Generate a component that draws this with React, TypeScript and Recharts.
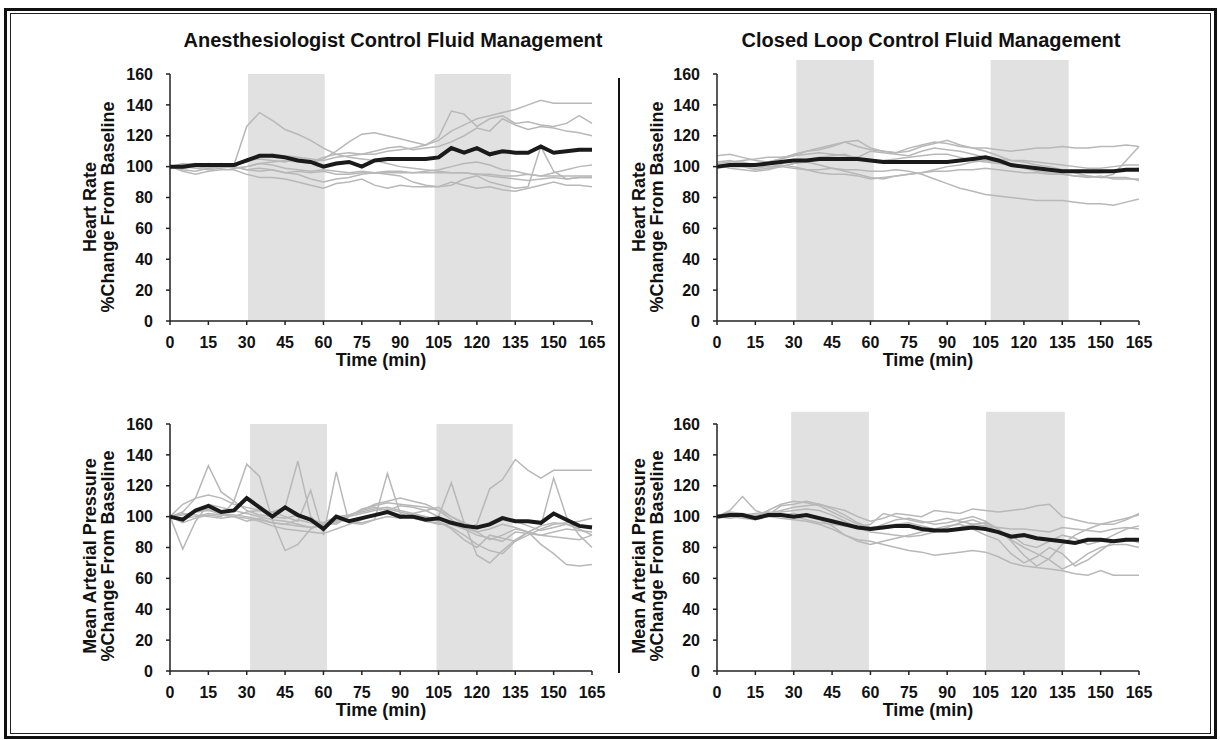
import { LineChart, Line, XAxis, YAxis, ReferenceArea } from "recharts";

const minutes = [0, 5, 10, 15, 20, 25, 30, 35, 40, 45, 50, 55, 60, 65, 70, 75, 80, 85, 90, 95, 100, 105, 110, 115, 120, 125, 130, 135, 140, 145, 150, 155, 160, 165];
const xTicks = [0, 15, 30, 45, 60, 75, 90, 105, 120, 135, 150, 165];
const yTicks = [0, 20, 40, 60, 80, 100, 120, 140, 160];

// Heart rate, anesthesiologist control
const hrAnesMean = [100,100,101,101,101,101,104,107,107,106,104,103,100,102,103,100,104,105,105,105,105,106,112,109,112,108,110,109,109,113,109,110,111,111];
const hrAnes1 = [100,99,100,101,100,101,126,135,130,124,121,117,112,108,106,105,104,102,100,99,98,97,96,96,95,94,93,92,91,92,93,92,93,93];
const hrAnes2 = [100,101,102,100,101,99,100,102,103,104,103,102,105,110,116,121,122,120,118,116,114,117,123,127,131,133,135,137,140,143,141,141,141,141];
const hrAnes3 = [100,102,101,100,102,101,103,106,108,107,106,105,104,106,107,108,108,110,111,112,114,119,136,134,126,131,133,128,129,127,126,128,133,128];
const hrAnes4 = [100,99,100,102,101,100,104,105,104,103,105,103,106,108,109,108,110,112,113,111,112,113,116,120,125,123,131,127,124,126,125,123,122,120];
const hrAnes5 = [100,98,97,99,100,99,100,102,101,99,98,97,98,97,96,97,96,97,97,96,97,98,100,102,103,101,98,97,95,94,96,98,100,101];
const hrAnes6 = [100,97,95,97,98,98,95,93,93,92,90,88,86,89,90,92,88,86,88,87,87,87,90,88,86,87,85,84,86,88,90,88,88,87];
const hrAnes7 = [100,101,100,99,100,100,98,97,98,96,95,92,90,92,93,95,96,95,94,90,88,87,88,92,94,90,88,86,87,113,97,92,93,93];
const hrAnes8 = [100,100,99,98,99,100,98,99,98,96,97,96,97,95,95,96,96,96,96,96,96,96,96,96,95,95,94,94,95,94,94,94,94,94];

// Heart rate, closed loop control
const hrLoopMean = [100,101,101,101,102,103,104,104,105,105,105,105,104,103,103,103,103,103,103,104,105,106,104,101,100,99,98,97,97,97,97,97,98,98];
const hrLoop1 = [100,101,100,99,100,100,99,98,98,99,98,98,97,97,98,97,95,92,89,86,84,82,81,80,79,78,78,78,77,76,76,75,77,79];
const hrLoop2 = [107,108,106,104,103,105,108,110,112,114,116,113,111,110,109,112,114,116,115,113,112,112,111,110,111,112,112,113,112,112,113,113,114,113];
const hrLoop3 = [103,104,102,101,103,105,107,110,111,113,116,117,112,110,109,110,113,115,117,114,112,110,107,104,103,101,100,98,96,94,93,95,104,113];
const hrLoop4 = [101,99,98,97,98,100,102,103,101,99,97,95,93,92,94,95,96,98,100,101,103,104,103,101,99,97,96,95,94,93,94,92,92,92];
const hrLoop5 = [100,102,103,101,100,101,100,98,96,95,95,94,92,93,94,95,96,97,97,98,98,99,98,97,96,96,95,95,94,94,93,93,93,91];
const hrLoop6 = [102,103,104,105,106,106,107,108,109,108,107,106,110,109,108,107,110,112,111,110,108,106,105,104,104,103,102,101,100,99,99,100,101,101];
const hrLoop7 = [99,100,100,98,99,100,102,104,106,107,108,105,104,104,105,106,107,108,108,106,104,103,102,101,100,99,98,97,97,96,96,97,98,99];

// Mean arterial pressure, anesthesiologist control
const mapAnesMean = [100,98,104,107,103,104,112,106,100,106,101,98,92,100,97,99,101,103,100,100,98,99,96,94,93,95,99,97,97,96,102,98,94,93];
const mapAnes1 = [100,97,103,105,101,100,97,99,96,95,98,96,94,97,101,104,106,104,101,100,97,95,95,92,95,118,124,137,130,125,130,130,130,130];
const mapAnes2 = [100,108,112,133,116,110,104,101,100,99,101,98,96,95,100,102,104,105,103,101,100,98,96,93,90,92,95,93,90,88,90,92,91,90];
const mapAnes3 = [100,96,99,101,100,110,134,126,98,78,82,92,96,100,101,103,105,106,104,102,100,97,92,85,80,88,86,84,88,92,95,96,97,99];
const mapAnes4 = [100,103,112,114,112,108,106,104,103,106,136,100,92,98,101,104,108,110,112,110,108,104,100,95,90,85,88,92,90,94,96,95,94,94];
const mapAnes5 = [100,102,101,100,99,100,103,104,103,100,97,117,88,129,96,95,98,100,99,102,104,106,100,96,92,96,100,97,94,91,93,95,92,88];
const mapAnes6 = [100,79,97,108,106,104,102,100,98,97,95,93,94,96,100,105,107,109,108,107,106,104,98,92,88,86,84,90,89,88,87,86,85,88];
const mapAnes7 = [100,101,103,104,102,101,100,98,96,95,94,93,95,98,97,96,98,128,102,99,97,96,93,88,82,78,76,84,90,82,76,69,68,69];
const mapAnes8 = [100,99,100,102,101,100,99,97,94,92,91,90,89,92,95,98,101,104,107,106,104,100,122,96,75,70,78,85,90,94,125,100,88,80];

// Mean arterial pressure, closed loop control
const mapLoopMean = [100,101,101,99,101,101,100,101,99,97,95,93,92,93,94,94,92,91,91,92,93,92,90,87,88,86,85,84,83,85,85,84,85,85];
const mapLoop1 = [100,99,100,101,100,99,98,97,95,92,88,85,84,82,80,78,77,75,76,77,78,77,74,70,68,67,66,65,63,62,65,62,62,62];
const mapLoop2 = [100,104,113,104,101,107,108,110,108,105,101,96,93,94,95,96,94,92,91,93,95,96,92,85,80,76,72,66,70,76,80,82,82,80];
const mapLoop3 = [100,102,100,99,102,104,106,107,108,106,104,100,97,99,102,101,100,104,103,102,105,104,103,104,105,107,108,100,98,96,95,95,98,102];
const mapLoop4 = [100,103,102,100,104,108,110,109,107,103,99,95,92,95,98,99,97,95,96,98,100,97,92,84,75,68,73,82,88,92,95,97,99,101];
const mapLoop5 = [101,100,99,98,100,103,104,105,104,101,97,93,90,89,88,87,88,90,93,96,98,95,90,88,82,80,84,88,86,82,84,88,92,94];
const mapLoop6 = [100,101,100,99,100,101,102,100,98,94,88,84,82,84,86,88,90,92,94,95,92,88,85,76,70,74,80,76,68,72,78,84,86,83];
const mapLoop7 = [99,100,101,102,103,102,100,98,96,95,94,93,95,102,100,98,96,97,99,97,95,94,93,92,92,91,90,93,92,91,90,92,93,92];

// fluid challenge windows (minutes)
const anesHrShades = [[30.5, 60.5], [103.5, 133.3]];
const loopHrShades = [[31, 61.3], [107, 137.5]];
const anesMapShades = [[31.3, 61.4], [104.2, 134]];
const loopMapShades = [[29, 59.4], [105.2, 136]];

const FONT = "'Liberation Sans', Arial, Helvetica, sans-serif";
const tickStyle = { fontSize: 16, fontWeight: 700, fill: "#111", fontFamily: FONT };
const axisStroke = { stroke: "#222", strokeWidth: 1.5 };

interface PanelProps {
  left: number;
  top: number;
  mean: number[];
  greys: number[][];
  shades: number[][];
  shadeTop: number;
}

function Panel({ left, top, mean, greys, shades, shadeTop }: PanelProps) {
  const data = minutes.map((t, i) => {
    const row: Record<string, number> = { t, mean: mean[i] };
    greys.forEach((g, k) => {
      row["g" + k] = g[i];
    });
    return row;
  });

  return (
    <div style={{ position: "absolute", left, top }}>
      <LineChart width={620} height={380} data={data} margin={{ top: 74, right: 28, bottom: 9, left: 0 }}>
        {shades.map(([a, b]) => (
          <ReferenceArea key={a} x1={a} x2={b} y1={0} y2={shadeTop} fill="#e1e1e1" fillOpacity={1} stroke="none" ifOverflow="visible" />
        ))}
        <XAxis
          dataKey="t"
          type="number"
          domain={[0, 165]}
          ticks={xTicks}
          interval={0}
          height={50}
          tick={tickStyle}
          tickSize={4}
          tickMargin={12}
          axisLine={axisStroke}
          tickLine={axisStroke}
          label={{ value: "Time (min)", position: "insideBottom", offset: 5, fontSize: 18, fontWeight: 700, fill: "#111", fontFamily: FONT }}
        />
        <YAxis
          type="number"
          domain={[0, 160]}
          ticks={yTicks}
          interval={0}
          width={170}
          tick={tickStyle}
          tickSize={4}
          tickMargin={13}
          axisLine={axisStroke}
          tickLine={axisStroke}
        />
        {greys.map((_, k) => (
          <Line key={k} type="linear" dataKey={"g" + k} stroke="#b8b8b8" strokeWidth={1.5} dot={false} isAnimationActive={false} />
        ))}
        <Line type="linear" dataKey="mean" stroke="#1a1a1a" strokeWidth={4} dot={false} isAnimationActive={false} />
      </LineChart>
    </div>
  );
}

function Title({ x, text }: { x: number; text: string }) {
  return (
    <div style={{ position: "absolute", left: x, top: 28, transform: "translateX(-50%)", whiteSpace: "nowrap", fontSize: 20, fontWeight: 700, lineHeight: "24px", color: "#111" }}>
      {text}
    </div>
  );
}

function YLabel({ x, y, lines }: { x: number; y: number; lines: string[] }) {
  return (
    <div style={{ position: "absolute", left: x, top: y, transform: "translate(-50%, -50%) rotate(-90deg)", whiteSpace: "nowrap", textAlign: "center", fontSize: 18, fontWeight: 700, lineHeight: "18px", color: "#111" }}>
      {lines.map((l) => (
        <div key={l}>{l}</div>
      ))}
    </div>
  );
}

export default function App() {
  return (
    <div style={{ position: "fixed", left: 0, top: 0, width: 1220, height: 740, background: "#fff", fontFamily: FONT, overflow: "hidden" }}>
      <div style={{ position: "absolute", left: 4, top: 8, width: 1213, height: 731, border: "3px solid #111", boxSizing: "border-box" }} />
      <div style={{ position: "absolute", left: 10, top: 13, width: 1201, height: 721, border: "1.5px solid #222", boxSizing: "border-box" }} />

      <Title x={393} text="Anesthesiologist Control Fluid Management" />
      <Title x={931} text="Closed Loop Control Fluid Management" />

      <Panel left={0} top={0} mean={hrAnesMean} greys={[hrAnes1, hrAnes2, hrAnes3, hrAnes4, hrAnes5, hrAnes6, hrAnes7, hrAnes8]} shades={anesHrShades} shadeTop={160} />
      <Panel left={547} top={0} mean={hrLoopMean} greys={[hrLoop1, hrLoop2, hrLoop3, hrLoop4, hrLoop5, hrLoop6, hrLoop7]} shades={loopHrShades} shadeTop={169} />
      <Panel left={0} top={350} mean={mapAnesMean} greys={[mapAnes1, mapAnes2, mapAnes3, mapAnes4, mapAnes5, mapAnes6, mapAnes7, mapAnes8]} shades={anesMapShades} shadeTop={160} />
      <Panel left={547} top={350} mean={mapLoopMean} greys={[mapLoop1, mapLoop2, mapLoop3, mapLoop4, mapLoop5, mapLoop6, mapLoop7]} shades={loopMapShades} shadeTop={168} />

      <YLabel x={98.5} y={207} lines={["Heart Rate", "%Change From Baseline"]} />
      <YLabel x={648} y={207} lines={["Heart Rate", "%Change From Baseline"]} />
      <YLabel x={98.5} y={556} lines={["Mean Arterial Pressure", "%Change From Baseline"]} />
      <YLabel x={648} y={556} lines={["Mean Arterial Pressure", "%Change From Baseline"]} />

      <div style={{ position: "absolute", left: 617.5, top: 78, width: 2.5, height: 595, background: "#111" }} />
    </div>
  );
}
